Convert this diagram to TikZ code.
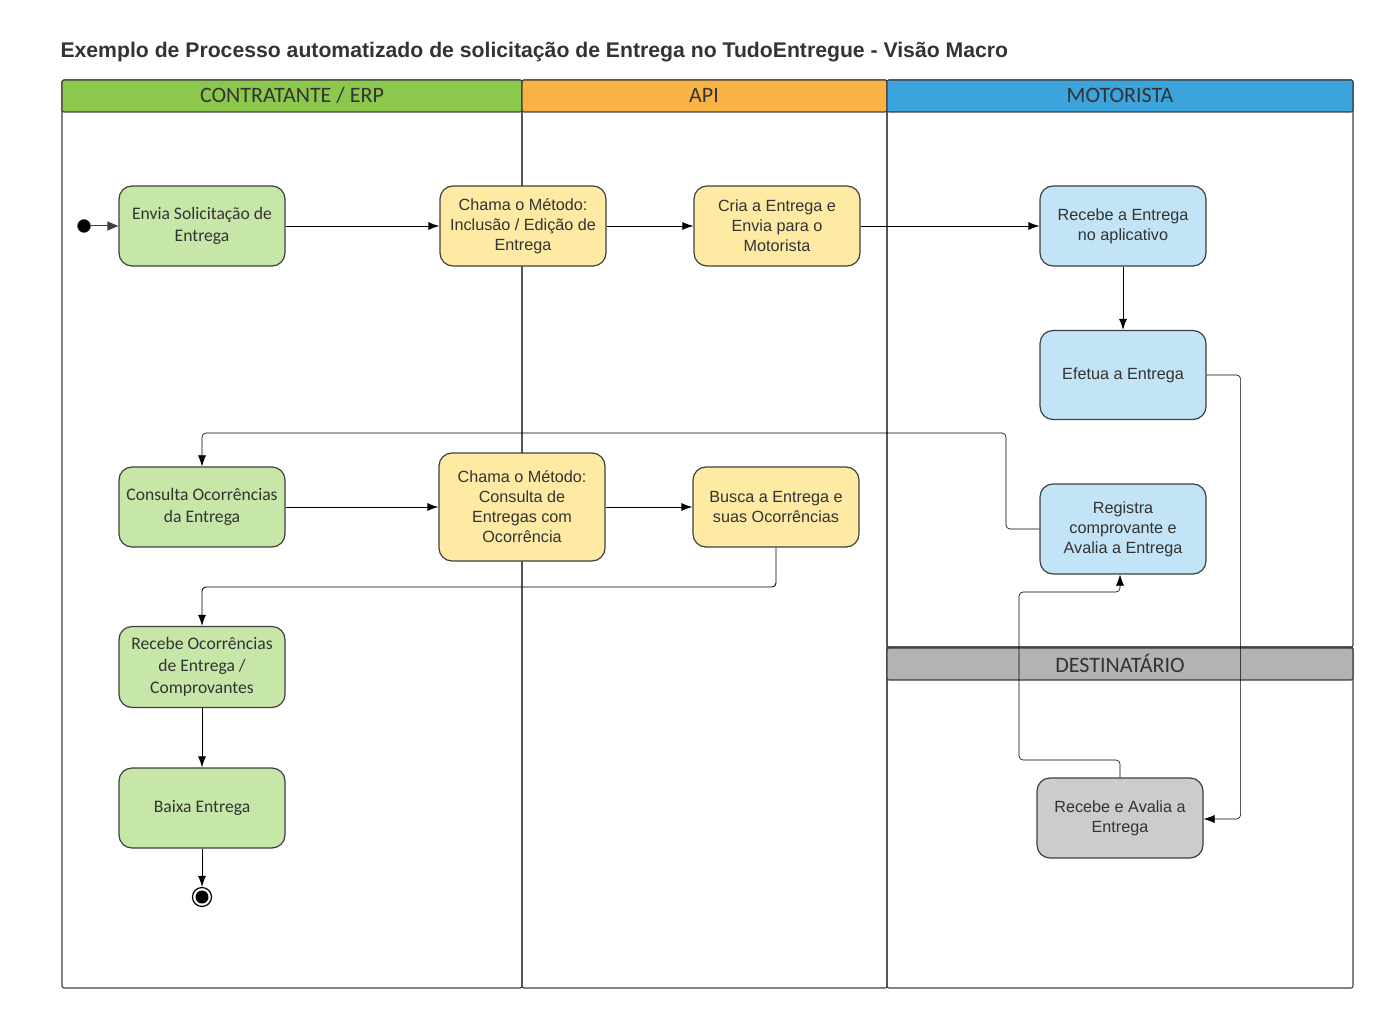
\documentclass[tikz,border=0pt]{standalone}
\usepackage{fontspec}
\setmainfont{Liberation Sans}
\newfontfamily\carlito{Carlito}
\usetikzlibrary{arrows.meta,positioning}
\definecolor{edgeGray}{HTML}{3F3F3F}
\definecolor{txtGray}{HTML}{333333}
\definecolor{hdGreen}{HTML}{8CC84B}
\definecolor{hdOrange}{HTML}{F8B246}
\definecolor{hdBlue}{HTML}{3BA4DC}
\definecolor{hdGray}{HTML}{B3B3B3}
\definecolor{ndGreen}{HTML}{C7E7A9}
\definecolor{ndYellow}{HTML}{FFEAA4}
\definecolor{ndBlue}{HTML}{C2E4F6}
\definecolor{ndGray}{HTML}{CCCCCC}
\tikzset{
  lane/.style={draw=edgeGray,line width=1.1pt,rounded corners=2pt},
  lanehead/.style={draw=edgeGray,line width=1.1pt,rounded corners=2pt},
  headtxt/.style={text=txtGray,font=\carlito\fontsize{22}{26}\selectfont},
  act/.style={draw=edgeGray,line width=1.2pt,rounded corners=13pt,minimum width=166pt,
    minimum height=80pt,align=center,text=txtGray,inner sep=2pt},
  actA/.style={act,font=\fontsize{16.2}{20}\selectfont},
  actC/.style={act,font=\carlito\fontsize{17.6}{22}\selectfont},
  flow/.style={-{Latex[length=11pt,width=8pt]},line width=0.9pt,rounded corners=4pt},
  thin/.style={-{Latex[length=11pt,width=8pt]},line width=0.6pt,rounded corners=4pt},
}
\begin{document}
\begin{tikzpicture}[x=1pt,y=-1pt]
\useasboundingbox (0,0) rectangle (1391,1016);
% titulo
\node[anchor=west,text=txtGray,font=\bfseries\fontsize{21.2}{25}\selectfont] (titulo) at (57,52)
  {Exemplo de Processo automatizado de solicitação de Entrega no TudoEntregue - Visão Macro};
% raias
\draw[lane] (62,80) rectangle (522,988);
\draw[lane] (522,80) rectangle (887,988);
\draw[lane] (887,80) rectangle (1353,647);
\draw[lane] (887,647) rectangle (1353,988);
\draw[lanehead,fill=hdGreen] (62,80) rectangle (522,112);
\draw[lanehead,fill=hdOrange] (522,80) rectangle (887,112);
\draw[lanehead,fill=hdBlue] (887,80) rectangle (1353,112);
\draw[lanehead,fill=hdGray] (887,648) rectangle (1353,680);
\node[headtxt] (hContr) at (292,95) {CONTRATANTE / ERP};
\node[headtxt] (hApi) at (704,95) {API};
\node[headtxt] (hMot) at (1120,95) {MOTORISTA};
\node[headtxt] (hDest) at (1120,663) {DESTINATÁRIO};
% atividades
\node[actC,fill=ndGreen] (envia) at (202,226) {Envia Solicitação de\\Entrega};
\node[actA,fill=ndYellow] (chamaInc) at (523,226) {Chama o Método:\\Inclusão / Edição de\\Entrega};
\node[actA,fill=ndYellow] (cria) at (777,226) {Cria a Entrega e\\Envia para o\\Motorista};
\node[actA,fill=ndBlue] (recebeEnt) at (1123,226) {Recebe a Entrega\\no aplicativo};
\node[actA,fill=ndBlue,minimum height=89pt] (efetua) at (1123,375) {Efetua a Entrega};
\node[actC,fill=ndGreen] (consulta) at (202,507) {Consulta Ocorrências\\da Entrega};
\node[actA,fill=ndYellow,minimum height=108pt] (chamaCons) at (522,507) {Chama o Método:\\Consulta de\\Entregas com\\Ocorrência};
\node[actA,fill=ndYellow] (busca) at (776,507) {Busca a Entrega e\\suas Ocorrências};
\node[actA,fill=ndBlue,minimum height=90pt] (registra) at (1123,529) {Registra\\comprovante e\\Avalia a Entrega};
\node[actC,fill=ndGreen,minimum height=81pt] (recebeOc) at (202,667) {Recebe Ocorrências\\de Entrega /\\Comprovantes};
\node[actC,fill=ndGreen] (baixa) at (202,808) {Baixa Entrega};
\node[actA,fill=ndGray] (recebeAval) at (1120,818) {Recebe e Avalia a\\Entrega};
% inicio e fim
\node[circle,fill=black,draw=edgeGray,inner sep=0pt,minimum size=13pt] (inicio) at (84,226) {};
\node[circle,draw=black,fill=white,line width=1.2pt,inner sep=0pt,minimum size=19pt] (fim) at (202,897) {};
\fill[black] (fim) circle (6.5pt);
% fluxos
\draw[-{Triangle[length=11pt,width=9pt]},line width=1pt,draw=edgeGray,fill=edgeGray] (inicio) -- (envia);
\draw[flow] (envia) -- (chamaInc);
\draw[flow] (chamaInc) -- (cria);
\draw[flow] (cria) -- (recebeEnt);
\draw[flow] (recebeEnt) -- (efetua);
\draw[thin] (efetua.east) -- ++(34,0) |- ([yshift=-1pt]recebeAval.east);
\coordinate (volta) at (1006,433);
\draw[thin] (registra.west) -| (volta) -| (consulta.north);
\draw[flow] (consulta) -- (chamaCons);
\draw[flow] (chamaCons) -- (busca);
\coordinate (desce) at (776,587);
\draw[flow] (busca.south) -- (desce) -| (recebeOc.north);
\draw[flow] (recebeOc) -- (baixa);
\draw[flow] (baixa) -- (fim);
\coordinate (sobe) at (1019,760);
\draw[thin] (recebeAval.north) |- (sobe) |- (1120,592) -- ([xshift=-3pt]registra.south);
\end{tikzpicture}
\end{document}
